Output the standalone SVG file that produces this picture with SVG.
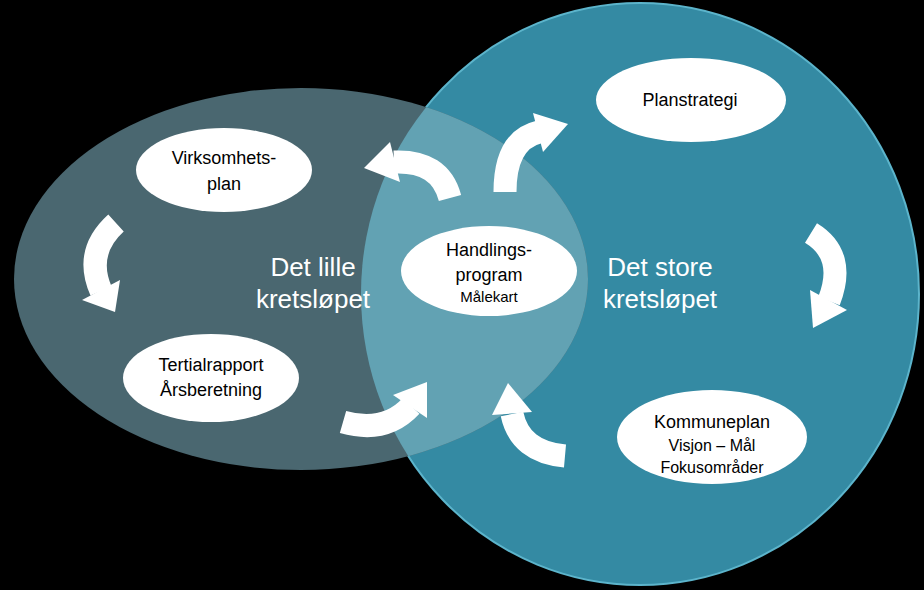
<svg xmlns="http://www.w3.org/2000/svg" width="924" height="590" viewBox="0 0 924 590">
<style>
.node{fill:#fff}
.t{font-family:"Liberation Sans",Arial,sans-serif;fill:#000;text-anchor:middle}
.big{font-family:"Liberation Sans",Arial,sans-serif;fill:#fff;font-size:26px;text-anchor:middle}
.body{fill:none;stroke:#fff;stroke-width:23;stroke-linecap:butt}
.head{fill:#fff}
</style>
<defs>
<clipPath id="cc"><ellipse cx="640" cy="294" rx="279" ry="291"/></clipPath>
</defs>
<rect width="924" height="590" fill="#000"/>
<g id="store">
<ellipse cx="640" cy="294" rx="279" ry="291" fill="#348aa3" stroke="#5cb4cb" stroke-width="2"/>
</g>
<g id="lille">
<ellipse cx="301" cy="279" rx="287" ry="191" fill="#4a6770"/>
<ellipse cx="301" cy="279" rx="287" ry="191" fill="#62a2b3" clip-path="url(#cc)"/>
</g>
<text class="big" x="313" y="276">Det lille</text>
<text class="big" x="313" y="308">kretsløpet</text>
<text class="big" x="660" y="276">Det store</text>
<text class="big" x="660" y="308">kretsløpet</text>
<g id="connectors">
<g id="a1"><path class="body" d="M450,198 Q440,160 394,162"/><polygon class="head" points="364,168 390,142 400,182"/></g>
<g id="a2"><path class="body" d="M505,192 Q505,140 539,132"/><polygon class="head" points="568,124 533,113 543,152"/></g>
<g id="a3"><path class="body" d="M811,233 Q847,255 829,301"/><polygon class="head" points="813,328 810,290 847,310"/></g>
<g id="a4"><path class="body" d="M565,456 Q520,452 512,414"/><polygon class="head" points="508,383 492,415 532,412"/></g>
<g id="a5"><path class="body" d="M343,422 Q385,434 411,406"/><polygon class="head" points="427,382 393,395 427,418"/></g>
<g id="a6"><path class="body" d="M116,223 Q84,252 101,291"/><polygon class="head" points="115,312 82,300 120,280"/></g>
</g>
<g id="planstrategi"><ellipse class="node" cx="691" cy="100" rx="95" ry="42"/><text class="t" x="690" y="106" font-size="18">Planstrategi</text></g>
<g id="virksomhetsplan"><ellipse class="node" cx="224" cy="170" rx="88" ry="42"/><text class="t" x="224" y="164" font-size="18">Virksomhets-</text><text class="t" x="224" y="190" font-size="18">plan</text></g>
<g id="handlingsprogram"><ellipse class="node" cx="489" cy="271" rx="88" ry="45"/><text class="t" x="489" y="256" font-size="18">Handlings-</text><text class="t" x="489" y="281" font-size="18">program</text><text class="t" x="489" y="302" font-size="15">Målekart</text></g>
<g id="tertialrapport"><ellipse class="node" cx="211" cy="378" rx="88" ry="44"/><text class="t" x="211" y="371" font-size="18">Tertialrapport</text><text class="t" x="211" y="396" font-size="18">Årsberetning</text></g>
<g id="kommuneplan"><ellipse class="node" cx="712" cy="437" rx="95" ry="47"/><text class="t" x="712" y="428" font-size="18">Kommuneplan</text><text class="t" x="712" y="451" font-size="16">Visjon – Mål</text><text class="t" x="712" y="473" font-size="16">Fokusområder</text></g>
</svg>
